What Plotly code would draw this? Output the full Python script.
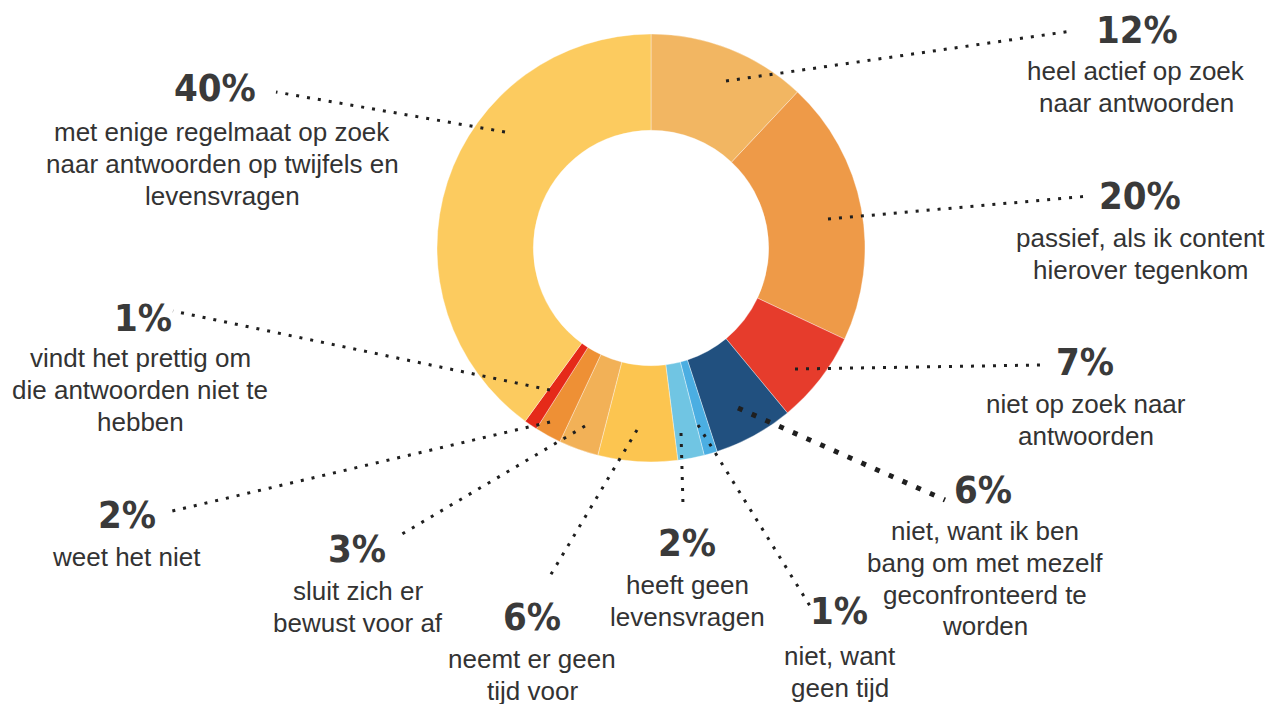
import plotly.graph_objects as go

W, H = 1282, 704
OFF = 8  # page body margin in the browser

categories = [
    "heel actief op zoek<br>naar antwoorden",
    "passief, als ik content<br>hierover tegenkom",
    "niet op zoek naar<br>antwoorden",
    "niet, want ik ben<br>bang om met mezelf<br>geconfronteerd te<br>worden",
    "niet, want<br>geen tijd",
    "heeft geen<br>levensvragen",
    "neemt er geen<br>tijd voor",
    "sluit zich er<br>bewust voor af",
    "weet het niet",
    "vindt het prettig om<br>die antwoorden niet te<br>hebben",
    "met enige regelmaat op zoek<br>naar antwoorden op twijfels en<br>levensvragen",
]
values = [12, 20, 7, 6, 1, 2, 6, 3, 2, 1, 40]
colors = ["#F2B662", "#EE9A48", "#E63C2C", "#21507F", "#4BAEE2", "#70C5E3",
          "#FCC550", "#F2B157", "#EE9035", "#E52A19", "#FCCB5F"]

# layout: label positions (pixel centres): percent text, first description line
pct_pos = [(1137, 30), (1140, 196), (1085, 362), (983, 490), (839, 611), (687, 543),
           (532, 617), (357, 549), (127, 515), (143, 318), (215, 88)]
txt_pos = [(1136, 71), (1140, 238), (1086, 404), (985, 531), (840, 656), (687, 585),
           (532, 659), (358, 591), (126, 557), (140, 358), (222, 132)]
LINE_H = 31.8
# leader lines (pixel): start inside slice -> end near label
leaders = [((726, 81), (1072, 31)), ((828, 219), (1090, 196)), ((795, 369), (1040, 365)),
           ((738, 408), (945, 500)), ((698, 425), (810, 606)), ((681, 433), (683, 505)),
           ((637, 430), (550, 576)), ((585, 426), (397, 537)), ((550, 422), (168, 512)),
           ((550, 390), (173, 311)), ((505, 132), (276, 92))]

px = lambda x: (x - OFF) / W
py = lambda y: 1 - (y - OFF) / H

fig = go.Figure(go.Pie(
    values=values,
    labels=[c.replace("<br>", " ") for c in categories],
    marker=dict(colors=colors, line=dict(color="rgba(255,255,255,0.6)", width=0.6)),
    hole=0.55,
    sort=False,
    direction="clockwise",
    rotation=0,
    textinfo="none",
    hoverinfo="label+percent",
    domain=dict(x=[px(437), px(865)], y=[py(462), py(34)]),
    showlegend=False,
))

shapes = []
for i, ((x0, y0), (x1, y1)) in enumerate(leaders):
    big = (i == 3)
    shapes.append(dict(
        type="line", xref="paper", yref="paper",
        x0=px(x0), y0=py(y0), x1=px(x1), y1=py(y1),
        line=dict(color="#1f1f1f", width=5 if big else 3,
                  dash="5px,10px" if big else "3px,8px"),
        layer="above",
    ))

annotations = []
for v, c, (pxx, pyy), (tx, ty) in zip(values, categories, pct_pos, txt_pos):
    annotations.append(dict(
        text=f"<b>{v}%</b>", x=px(pxx), y=py(pyy), xref="paper", yref="paper",
        xanchor="center", yanchor="middle", showarrow=False,
        font=dict(family="Liberation Sans Narrow, DejaVu Sans Condensed, sans-serif",
                  size=38, color="#3a3a3a"),
    ))
    for k, line in enumerate(c.split("<br>")):
        annotations.append(dict(
            text=line, x=px(tx), y=py(ty + k * LINE_H), xref="paper", yref="paper",
            xanchor="center", yanchor="middle", showarrow=False, align="center",
            font=dict(family="Liberation Sans, Arial, sans-serif", size=26, color="#333333"),
        ))

fig.update_layout(
    width=W, height=H,
    margin=dict(l=0, r=0, t=0, b=0),
    paper_bgcolor="white", plot_bgcolor="white",
    shapes=shapes, annotations=annotations,
)

fig.write_html("out.html")
